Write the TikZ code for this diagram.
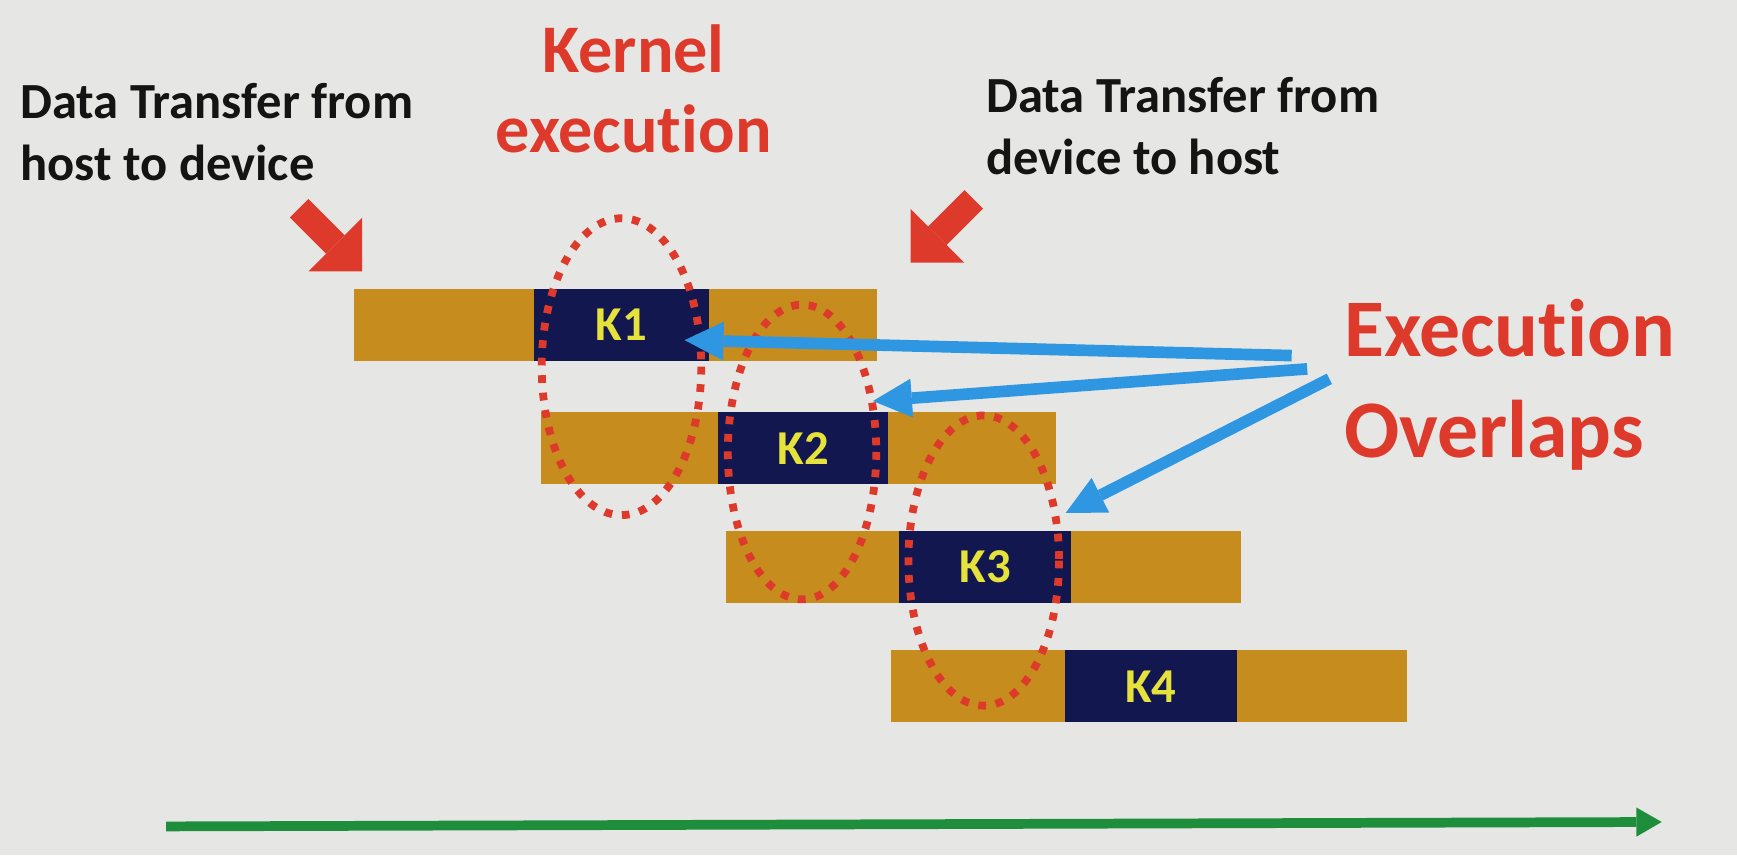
\documentclass[tikz,border=0pt]{standalone}
\usepackage{fontspec}
\setmainfont{Carlito}[Ligatures={NoCommon,NoContextual}]
\usetikzlibrary{arrows.meta,positioning}
\definecolor{bg}{HTML}{E6E6E4}
\definecolor{gold}{HTML}{C68C1E}
\definecolor{navy}{HTML}{13174F}
\definecolor{kyel}{HTML}{E6E23C}
\definecolor{sred}{HTML}{DE3A2C}
\definecolor{sblue}{HTML}{2F97E2}
\definecolor{sgreen}{HTML}{1F8E3C}
\definecolor{ink}{HTML}{141414}
\begin{document}
\begin{tikzpicture}[x=0.02cm,y=-0.02cm,
  seg/.style={minimum height=1.3cm,inner sep=0pt,outer sep=0pt,draw=none},
  xfer/.style={seg,fill=gold},
  kern/.style={seg,fill=navy,text=kyel,font=\bfseries\fontsize{25}{25}\selectfont},
  ring/.style={draw=sred,line width=4pt,dash pattern=on 4pt off 5pt},
  blockarrow/.style={draw=sred,line width=13.5pt,-{Triangle[width=39pt,length=19.5pt,line width=0pt]}},
  bluearrow/.style={draw=sblue,line width=6pt,-{Triangle[width=20pt,length=20pt,line width=0pt]}},
  timearrow/.style={draw=sgreen,line width=5pt,-{Triangle[width=15pt,length=13pt,line width=0pt]}},
  blacklabel/.style={inner sep=0pt,align=left,text=ink,font=\bfseries\fontsize{26}{32}\selectfont},
  redlabel/.style={inner sep=0pt,text=sred,font=\bfseries\fontsize{35}{41}\selectfont},
  biglabel/.style={inner sep=0pt,align=left,text=sred,font=\bfseries\fontsize{42}{52}\selectfont}
]
\fill[bg] (0,0) rectangle (1568,772);
\useasboundingbox (0,0) rectangle (1568,772);

% rows
\node[xfer,minimum width=3.24cm,anchor=west] (h1) at (320,293.5) {};
\node[kern,minimum width=3.16cm,right=0pt of h1] (k1) {K1};
\node[xfer,minimum width=3.04cm,right=0pt of k1] (d1) {};

\node[xfer,minimum width=3.20cm,anchor=west] (h2) at (488,404.5) {};
\node[kern,minimum width=3.08cm,right=0pt of h2] (k2) {K2};
\node[xfer,minimum width=3.02cm,right=0pt of k2] (d2) {};

\node[xfer,minimum width=3.14cm,anchor=west] (h3) at (655,511.5) {};
\node[kern,minimum width=3.10cm,right=0pt of h3] (k3) {K3};
\node[xfer,minimum width=3.06cm,right=0pt of k3] (d3) {};

\node[xfer,minimum width=3.14cm,anchor=west] (h4) at (804,619.5) {};
\node[kern,minimum width=3.12cm,right=0pt of h4] (k4) {K4};
\node[xfer,minimum width=3.06cm,right=0pt of k4] (d4) {};

% overlap rings
\draw[ring] (561,331) ellipse [x radius=72, y radius=134];
\draw[ring] (724,408) ellipse [x radius=67, y radius=133];
\draw[ring] (888,506) ellipse [x radius=68, y radius=131];

% labels
\node[blacklabel,anchor=west] (lh2d) at (18,119) {Data Transfer from\\host to device};
\node[redlabel,align=center] (lkern) at (572,80) {Kernel\\execution};
\node[blacklabel,anchor=west] (ld2h) at (890,114) {Data Transfer from\\device to host};
\node[biglabel,anchor=west] (lover) at (1213,347) {Execution\\Overlaps};

% red block arrows
\coordinate (ra1) at (270,188);
\coordinate (rt1) at (327,245);
\coordinate (ra2) at (879,180);
\coordinate (rt2) at (822,237);
\draw[blockarrow] (ra1) -- (rt1);
\draw[blockarrow] (ra2) -- (rt2);

% blue arrows
\coordinate (b1s) at (1166,321);
\coordinate (b1t) at (618,307);
\coordinate (b2s) at (1180,333);
\coordinate (b2t) at (788,362);
\coordinate (b3s) at (1200,342);
\coordinate (b3t) at (962,463);
\draw[bluearrow] (b1s) -- (b1t);
\draw[bluearrow] (b2s) -- (b2t);
\draw[bluearrow] (b3s) -- (b3t);

% time axis
\coordinate (g1) at (150,746);
\coordinate (g2) at (1500,742);
\draw[timearrow] (g1) -- (g2);
\end{tikzpicture}
\end{document}
